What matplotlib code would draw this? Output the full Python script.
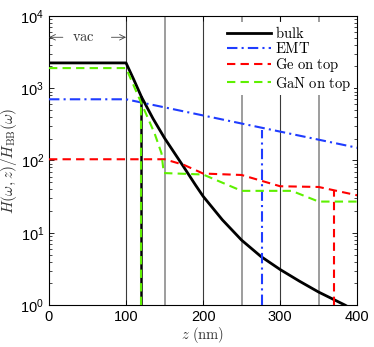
import matplotlib
matplotlib.use('Agg')
import matplotlib.pyplot as plt
from matplotlib.ticker import LogLocator, NullFormatter

plt.rcParams['font.family'] = ['Liberation Sans', 'DejaVu Sans']
plt.rcParams['mathtext.fontset'] = 'cm'

# Data (z in nm, H/H_BB)
z_bulk = [0, 100, 110, 120, 135, 150, 175, 190, 200, 225, 250, 275, 300, 325, 350, 384, 400]
h_bulk = [2240, 2240, 1320, 760, 380, 204, 81, 46, 32, 15.1, 7.9, 4.7, 3.1, 2.14, 1.51, 1.0, 0.8]

z_emt = [0, 100, 400]
h_emt = [703, 703, 150]

z_ge = [0, 150, 175, 200, 250, 300, 350, 400]
h_ge = [104, 104, 87, 66, 63, 44, 43, 33]

z_gan = [0, 100, 120, 137, 146, 149, 200, 250, 315, 350, 400]
h_gan = [1900, 1900, 617, 238, 126, 67, 64, 38, 38, 27, 27]

# position and top of the vertical drop of each series
drop_z = {'bulk': 120, 'EMT': 276, 'Ge': 370, 'GaN': 120}
drop_top = {'bulk': 760, 'EMT': 263, 'Ge': 38, 'GaN': 617}

layer_dark = [100, 200, 300]
layer_light = [150, 250, 350]

c_blue = '#1f3cff'
c_red = '#ff0000'
c_green = '#5ef000'

fig = plt.figure(figsize=(3.74, 3.47), dpi=100)
ax = fig.add_axes([0.131, 0.121, 0.824, 0.833])

ymin, ymax = 1, 1e4

for z in layer_dark:
    ax.plot([z, z], [ymin, ymax], color='#3a3a3a', lw=0.8, zorder=1)
for z in layer_light:
    ax.plot([z, z], [ymin, ymax], color='#8c8c8c', lw=1.2, zorder=1)

# curves
ax.plot(z_bulk, h_bulk, color='k', lw=2.0, label=r'$\mathrm{bulk}$', zorder=3)
ax.plot(z_emt, h_emt, color=c_blue, lw=1.5, dashes=(5, 2, 1, 2), label=r'$\mathrm{EMT}$', zorder=3)
ax.plot(z_ge, h_ge, color=c_red, lw=1.5, dashes=(4, 2.5), label=r'$\mathrm{Ge\ on\ top}$', zorder=3)
ax.plot(z_gan, h_gan, color=c_green, lw=1.5, dashes=(4, 2.5), label=r'$\mathrm{GaN\ on\ top}$', zorder=4)

# vertical drops
ax.plot([drop_z['bulk']] * 2, [ymin, drop_top['bulk']], color='k', lw=1.8, zorder=3)
ax.plot([drop_z['EMT']] * 2, [ymin, drop_top['EMT']], color=c_blue, lw=1.5, dashes=(5, 2, 1, 2), zorder=3)
ax.plot([drop_z['Ge']] * 2, [ymin, drop_top['Ge']], color=c_red, lw=1.5, dashes=(4, 2.5), zorder=3)
ax.plot([drop_z['GaN']] * 2, [ymin, drop_top['GaN']], color=c_green, lw=1.5, dashes=(4, 2.5), zorder=4)

# vacuum annotation
arr = dict(arrowstyle='->', color='#444444', lw=0.6, shrinkA=0, shrinkB=0)
ax.annotate('', xy=(0, 5070), xytext=(18, 5070), arrowprops=arr)
ax.annotate('', xy=(100, 5070), xytext=(81, 5070), arrowprops=arr)
ax.text(45, 5070, r'$\mathrm{vac}$', ha='center', va='center', fontsize=10.5, color='#333333')

ax.set_yscale('log')
ax.set_xlim(0, 400)
ax.set_ylim(ymin, ymax)
ax.set_xticks([0, 100, 200, 300, 400])
ax.yaxis.set_minor_locator(LogLocator(base=10, subs=range(2, 10)))
ax.yaxis.set_minor_formatter(NullFormatter())
ax.tick_params(which='both', direction='in', top=True, right=True, labelsize=10.5)
ax.tick_params(which='major', length=3.5, width=0.6)
ax.tick_params(which='minor', length=2, width=0.5)
for s in ax.spines.values():
    s.set_linewidth(0.8)

ax.set_xlabel(r'$z\ (\mathrm{nm})$', fontsize=10.5, color='#333333', labelpad=1)
ax.set_ylabel(r'$H(\omega,z)/H_{\mathrm{BB}}(\omega)$', fontsize=11, color='#333333', labelpad=1)

leg = ax.legend(loc='upper right', bbox_to_anchor=(1.0, 0.99), fontsize=10.5, frameon=True,
                handlelength=3.0, handletextpad=0.3, labelspacing=0.02, borderpad=0.2,
                borderaxespad=0.2)
leg.get_frame().set_edgecolor('none')
leg.get_frame().set_facecolor('white')
leg.get_frame().set_alpha(1)
leg.set_zorder(5)

fig.savefig('out.png', dpi=100)
